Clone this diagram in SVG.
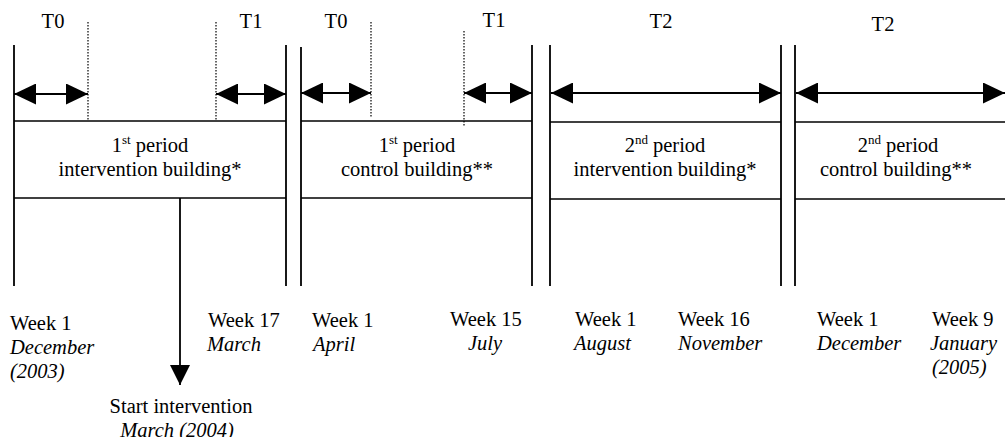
<svg xmlns="http://www.w3.org/2000/svg" width="1005" height="437" viewBox="0 0 1005 437">
<style>
text{font-family:"Liberation Serif","Times New Roman",serif;font-size:20.5px;fill:#000}
.it{font-style:italic}
.mid{text-anchor:middle}
.sup{font-size:13px}
.v{stroke:#000;stroke-width:1.8;fill:none}
.h{stroke:#000;stroke-width:1.5;fill:none}
.dot{stroke:#000;stroke-width:1.2;stroke-dasharray:1.5 1.5;fill:none}
.arr{stroke:#000;stroke-width:2;fill:none;marker-start:url(#ah);marker-end:url(#ah)}
</style>
<defs>
<marker id="ah" viewBox="0 0 22 21" refX="22" refY="10.5" markerWidth="22" markerHeight="21" markerUnits="userSpaceOnUse" orient="auto-start-reverse">
<path d="M0,0 L22,10.5 L0,21 Z" fill="#000"/>
</marker>
<marker id="dn" viewBox="0 0 20 20" refX="20" refY="10" markerWidth="20" markerHeight="20" markerUnits="userSpaceOnUse" orient="auto">
<path d="M0,0 L20,10 L0,20 Z" fill="#000"/>
</marker>
</defs>
<rect width="1005" height="437" fill="#fff"/>

<g id="period1-intervention">
<line class="v" x1="14" y1="45" x2="14" y2="286"/>
<line class="v" x1="286" y1="45" x2="286" y2="286"/>
<line class="h" x1="14" y1="121" x2="286" y2="121"/>
<line class="h" x1="14" y1="198" x2="286" y2="198"/>
<line class="dot" x1="88" y1="22" x2="88" y2="120"/>
<line class="dot" x1="216" y1="22" x2="216" y2="120"/>
<text class="mid" x="53" y="28">T0</text>
<text class="mid" x="251" y="28">T1</text>
<text class="mid" x="150" y="152">1<tspan class="sup" dy="-8">st</tspan><tspan dy="8"> period</tspan></text>
<text class="mid" x="150" y="176">intervention building*</text>
</g>

<g id="period1-control">
<line class="v" x1="301" y1="47" x2="301" y2="286"/>
<line class="v" x1="532" y1="45" x2="532" y2="286"/>
<line class="h" x1="301" y1="121" x2="532" y2="121"/>
<line class="h" x1="301" y1="198" x2="532" y2="198"/>
<line class="dot" x1="371" y1="22" x2="371" y2="118"/>
<line class="dot" x1="464" y1="31" x2="464" y2="127"/>
<text class="mid" x="336" y="28">T0</text>
<text class="mid" x="494" y="27">T1</text>
<text class="mid" x="417" y="152">1<tspan class="sup" dy="-8">st</tspan><tspan dy="8"> period</tspan></text>
<text class="mid" x="417" y="176">control building**</text>
</g>

<g id="period2-intervention">
<line class="v" x1="550" y1="45" x2="550" y2="286"/>
<line class="v" x1="781" y1="45" x2="781" y2="286"/>
<line class="h" x1="550" y1="122" x2="781" y2="122"/>
<line class="h" x1="550" y1="199" x2="781" y2="199"/>
<text class="mid" x="661" y="28">T2</text>
<text class="mid" x="665" y="152">2<tspan class="sup" dy="-8">nd</tspan><tspan dy="8"> period</tspan></text>
<text class="mid" x="665" y="176">intervention building*</text>
</g>

<g id="period2-control">
<line class="v" x1="795" y1="45" x2="795" y2="286"/>
<line class="h" x1="795" y1="122" x2="1005" y2="122"/>
<line class="h" x1="795" y1="199" x2="1005" y2="199"/>
<text class="mid" x="883" y="31">T2</text>
<text class="mid" x="898" y="152">2<tspan class="sup" dy="-8">nd</tspan><tspan dy="8"> period</tspan></text>
<text class="mid" x="896" y="176">control building**</text>
</g>

<g id="connectors">
<line class="arr" x1="14" y1="94" x2="88" y2="94"/>
<line class="arr" x1="216" y1="94" x2="286" y2="94"/>
<line class="arr" x1="301" y1="93" x2="371" y2="93"/>
<line class="arr" x1="464" y1="93" x2="532" y2="93"/>
<line class="arr" x1="551" y1="93" x2="781" y2="93"/>
<line class="arr" x1="796" y1="93" x2="1005" y2="93"/>
<line stroke="#000" stroke-width="1.8" x1="180" y1="198" x2="180" y2="385" marker-end="url(#dn)"/>
</g>

<g id="labels">
<text x="10" y="330">Week 1</text>
<text class="it" x="10" y="354">December</text>
<text class="it" x="10" y="378">(2003)</text>
<text x="208" y="327">Week 17</text>
<text class="it" x="207" y="351">March</text>
<text x="312" y="327">Week 1</text>
<text class="it" x="313" y="351">April</text>
<text x="450" y="326">Week 15</text>
<text class="it" x="468" y="350">July</text>
<text x="575" y="326">Week 1</text>
<text class="it" x="574" y="350">August</text>
<text x="678" y="326">Week 16</text>
<text class="it" x="678" y="350">November</text>
<text x="817" y="326">Week 1</text>
<text class="it" x="817" y="350">December</text>
<text x="932" y="326">Week 9</text>
<text class="it" x="930" y="350">January</text>
<text class="it" x="932" y="374">(2005)</text>
<text class="mid" x="181" y="413">Start intervention</text>
<text class="it mid" x="177" y="437">March (2004)</text>
</g>
</svg>
